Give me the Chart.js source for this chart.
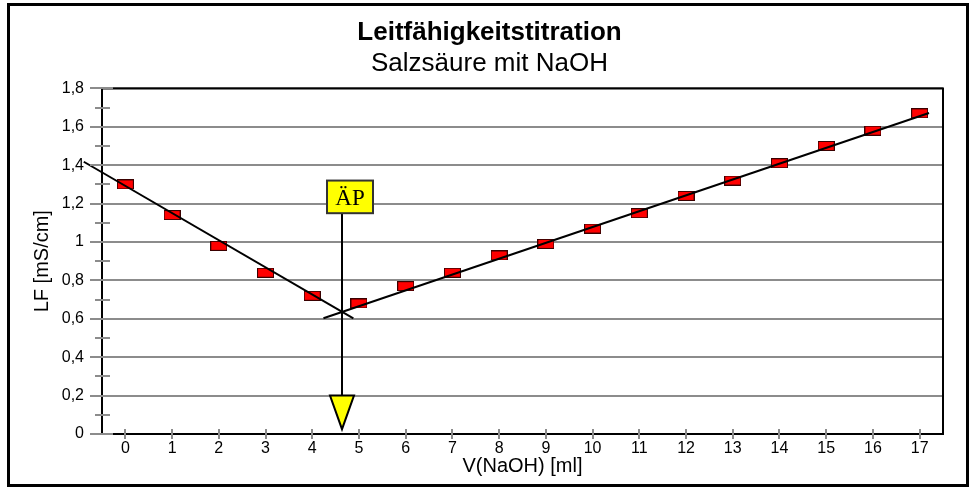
<!DOCTYPE html>
<html lang="de">
<head>
<meta charset="utf-8">
<title>Leitfähigkeitstitration</title>
<script src="https://cdn.jsdelivr.net/npm/chart.js@4/dist/chart.umd.min.js"></script>
<style>
    body { margin: 0; background: #fff; }
    canvas { display: block; }
</style>
</head>
<body>
<canvas id="grafico-titration" width="975" height="488"></canvas>
<script>
// Messwerte
const volumen = [0, 1, 2, 3, 4, 5, 6, 7, 8, 9, 10, 11, 12, 13, 14, 15, 16, 17];
const leitfaehigkeit = [1.30, 1.14, 0.98, 0.84, 0.72, 0.68, 0.77, 0.84, 0.93, 0.99,
                        1.07, 1.15, 1.24, 1.32, 1.41, 1.50, 1.58, 1.67];

// Ausgleichsgeraden (Anfangs- und Endpunkt)
const saeureX = [-0.89, 4.88];
const saeureY = [1.418, 0.602];
const laugeX = [4.24, 17.2];
const laugeY = [0.603, 1.672];

// Äquivalenzpunkt und Beschriftung
const aepX = 4.63;
const aepBox = [1.15, 1.32];     // unten, oben
const aepPfeil = [0.025, 0.2];   // Spitze, Oberkante

const yTicks = [0, 0.2, 0.4, 0.6, 0.8, 1, 1.2, 1.4, 1.6, 1.8];
const yMinor = [0.1, 0.3, 0.5, 0.7, 0.9, 1.1, 1.3, 1.5, 1.7];

document.addEventListener("DOMContentLoaded", () => {

    Chart.defaults.font.family = "'Liberation Sans', Arial, sans-serif";
    Chart.defaults.color = '#000';

    // rotes Rechteck als Punktsymbol
    const marker = document.createElement('canvas');
    marker.width = 17;
    marker.height = 10;
    const mctx = marker.getContext('2d');
    mctx.fillStyle = '#ff0000';
    mctx.fillRect(0, 0, 17, 10);
    mctx.strokeStyle = '#3a0000';
    mctx.lineWidth = 1;
    mctx.strokeRect(0.5, 0.5, 16, 9);

    const zip = (xs, ys) => xs.map((x, i) => ({ x: x, y: ys[i] }));

    /* =========================
       Rahmen, Ticks, ÄP-Pfeil
    ========================== */
    const rahmen = {
        id: 'rahmen',
        afterDraw(chart) {
            const ctx = chart.ctx;
            const a = chart.chartArea;
            const xs = chart.scales.x;
            const ys = chart.scales.y;
            ctx.save();

            // Rahmen oben und rechts
            ctx.strokeStyle = '#000';
            ctx.lineWidth = 2;
            ctx.beginPath();
            ctx.moveTo(a.left, a.top);
            ctx.lineTo(a.right, a.top);
            ctx.lineTo(a.right, a.bottom);
            ctx.stroke();

            // Ticks über die Achsen
            ctx.strokeStyle = '#8c8c8c';
            ctx.lineWidth = 2;
            ctx.beginPath();
            yTicks.forEach(v => {
                const p = Math.round(ys.getPixelForValue(v));
                ctx.moveTo(a.left - 12, p);
                ctx.lineTo(a.left + 11, p);
            });
            yMinor.forEach(v => {
                const p = Math.round(ys.getPixelForValue(v));
                ctx.moveTo(a.left - 7, p);
                ctx.lineTo(a.left + 8, p);
            });
            volumen.forEach(v => {
                const p = Math.round(xs.getPixelForValue(v));
                ctx.moveTo(p, a.bottom - 5);
                ctx.lineTo(p, a.bottom + 5);
            });
            ctx.stroke();

            // ÄP
            const px = Math.round(xs.getPixelForValue(aepX));
            const boxUnten = ys.getPixelForValue(aepBox[0]);
            const boxOben = ys.getPixelForValue(aepBox[1]);
            const spitze = ys.getPixelForValue(aepPfeil[0]);
            const pfeilOben = ys.getPixelForValue(aepPfeil[1]);

            ctx.strokeStyle = '#000';
            ctx.lineWidth = 2;
            ctx.beginPath();
            ctx.moveTo(px, boxUnten);
            ctx.lineTo(px, pfeilOben);
            ctx.stroke();

            ctx.beginPath();
            ctx.moveTo(px - 12, pfeilOben);
            ctx.lineTo(px + 12, pfeilOben);
            ctx.lineTo(px, spitze);
            ctx.closePath();
            ctx.fillStyle = '#ffff00';
            ctx.fill();
            ctx.stroke();

            ctx.fillStyle = '#ffff00';
            ctx.fillRect(px - 15, boxOben, 46, boxUnten - boxOben);
            ctx.strokeStyle = '#333';
            ctx.strokeRect(px - 15, boxOben, 46, boxUnten - boxOben);
            ctx.fillStyle = '#000';
            ctx.font = "23px 'Liberation Serif', 'Times New Roman', serif";
            ctx.textAlign = 'center';
            ctx.textBaseline = 'middle';
            ctx.fillText('ÄP', px + 8, (boxOben + boxUnten) / 2 + 2);

            // äußerer Rahmen
            ctx.strokeStyle = '#000';
            ctx.lineWidth = 3;
            ctx.strokeRect(8.5, 4.5, 959, 481);
            ctx.restore();
        }
    };

    /* =========================
       DIAGRAMM
    ========================== */
    const ctxTitration = document.getElementById('grafico-titration');

    new Chart(ctxTitration, {
        type: 'scatter',
        data: {
            datasets: [
                {
                    label: 'Messwerte',
                    data: zip(volumen, leitfaehigkeit),
                    pointStyle: marker,
                    pointRadius: 8,
                    showLine: false,
                    order: 1
                },
                {
                    label: 'Säure',
                    data: zip(saeureX, saeureY),
                    showLine: true,
                    borderColor: '#000',
                    borderWidth: 2,
                    pointRadius: 0,
                    clip: false,
                    order: 0
                },
                {
                    label: 'Lauge',
                    data: zip(laugeX, laugeY),
                    showLine: true,
                    borderColor: '#000',
                    borderWidth: 2,
                    pointRadius: 0,
                    clip: false,
                    order: 0
                }
            ]
        },
        options: {
            responsive: false,
            animation: false,
            devicePixelRatio: 1,
            layout: {
                padding: { top: 8, left: 12, right: 8, bottom: 6 }
            },
            plugins: {
                legend: { display: false },
                tooltip: { enabled: false },
                title: {
                    display: true,
                    text: 'Leitfähigkeitstitration',
                    font: { size: 26, weight: 'bold' },
                    padding: { top: 9, bottom: 0 }
                },
                subtitle: {
                    display: true,
                    text: 'Salzsäure mit NaOH',
                    font: { size: 26 },
                    color: '#000',
                    padding: { top: 0, bottom: 9 }
                }
            },
            scales: {
                x: {
                    type: 'linear',
                    min: -0.5,
                    max: 17.5,
                    afterBuildTicks: (scale) => {
                        scale.ticks = volumen.map(v => ({ value: v }));
                    },
                    afterFit: (scale) => { scale.height = 48; },
                    ticks: {
                        font: { size: 16 },
                        padding: 5,
                        maxRotation: 0
                    },
                    grid: { display: false, drawTicks: false, tickLength: 0 },
                    border: { color: '#000', width: 2 },
                    title: {
                        display: true,
                        text: 'V(NaOH) [ml]',
                        font: { size: 20 },
                        padding: { top: 0, bottom: 4 }
                    }
                },
                y: {
                    min: 0,
                    max: 1.8,
                    afterBuildTicks: (scale) => {
                        scale.ticks = yTicks.map(v => ({ value: v }));
                    },
                    afterFit: (scale) => { scale.width = 90; },
                    ticks: {
                        font: { size: 16 },
                        padding: 18,
                        callback: (v) => String(Number(v.toFixed(1))).replace('.', ',')
                    },
                    grid: {
                        color: '#8c8c8c',
                        lineWidth: 2,
                        drawTicks: false
                    },
                    border: { color: '#000', width: 2 },
                    title: {
                        display: true,
                        text: 'LF [mS/cm]',
                        font: { size: 20 },
                        padding: { top: 18, bottom: 0 }
                    }
                },
                // leere rechte Achse als Abstand zum Rahmen
                rechts: {
                    position: 'right',
                    min: 0,
                    max: 1.8,
                    afterFit: (scale) => { scale.width = 24; },
                    ticks: { display: false },
                    grid: { display: false, drawTicks: false },
                    border: { display: false }
                }
            }
        },
        plugins: [rahmen]
    });

});
</script>
</body>
</html>
